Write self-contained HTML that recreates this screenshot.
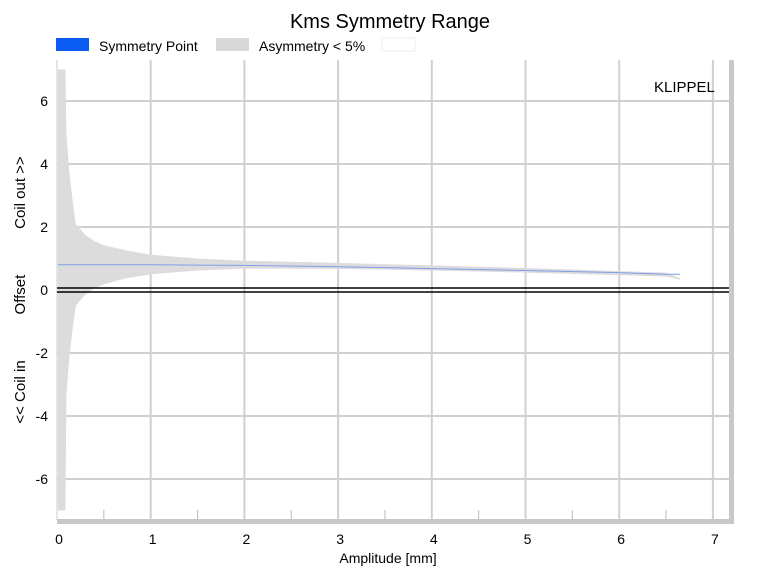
<!DOCTYPE html>
<html><head><meta charset="utf-8"><style>
body{margin:0;background:#fff;font-family:"Liberation Sans",sans-serif;}
svg text{font-family:"Liberation Sans",sans-serif;}
</style></head><body>
<svg width="765" height="572">
<text x="390" y="28" font-size="20" text-anchor="middle">Kms Symmetry Range</text>
<g>
<rect x="56" y="38" width="33" height="13" fill="#0a5cf5"/>
<text x="99" y="51" font-size="14">Symmetry Point</text>
<rect x="216" y="38" width="33" height="13" fill="#d9d9d9"/>
<text x="259" y="51" font-size="14">Asymmetry &lt; 5%</text>
<rect x="382" y="38" width="33" height="13" fill="#fff" stroke="#eee"/>
</g>
<rect x="729" y="60" width="5" height="464" fill="#c8c8c8"/>
<rect x="57" y="519" width="677" height="5" fill="#c8c8c8"/>
<line x1="57" y1="60" x2="57" y2="520" stroke="#ccc"/>
<g id="grid"></g>
<g id="series"></g>
<g id="axes"></g>
<text x="654" y="92" font-size="15">KLIPPEL</text>
<text x="388" y="563" font-size="14" text-anchor="middle">Amplitude [mm]</text>
<text transform="translate(25,290) rotate(-90)" font-size="15" text-anchor="middle">&lt;&lt; Coil in&#160;&#160;&#160;&#160;&#160;&#160;&#160;&#160;&#160;&#160;&#160;Offset&#160;&#160;&#160;&#160;&#160;&#160;&#160;&#160;&#160;&#160;&#160;Coil out &gt;&gt;</text>
</svg>
<script>
const xTicks=[0,1,2,3,4,5,6,7];
const yTicks=[-6,-4,-2,0,2,4,6];
const amplitude=[0.01,0.09,0.1,0.13,0.16,0.2,0.3,0.4,0.5,0.75,1,1.5,2,3,4,5,6,6.5,6.65];
const upper=[7.0,7.0,5.0,3.8,3.0,2.1,1.75,1.55,1.42,1.25,1.12,1.0,0.93,0.86,0.78,0.7,0.6,0.55,0.37];
const lower=[-7.0,-7.0,-3.4,-2.2,-1.4,-0.5,-0.15,0.05,0.18,0.38,0.5,0.62,0.68,0.67,0.62,0.55,0.47,0.43,0.33];
const symmetry=[0.8,0.8,0.8,0.8,0.8,0.8,0.8,0.8,0.8,0.8,0.8,0.79,0.78,0.74,0.68,0.62,0.55,0.5,0.5];
const X=v=>57+v*93.7, Y=v=>290-v*31.5;
const NS='http://www.w3.org/2000/svg';
const grid=document.getElementById('grid'),ser=document.getElementById('series'),ax=document.getElementById('axes');
function mk(p,t,a){const e=document.createElementNS(NS,t);for(const k in a)e.setAttribute(k,a[k]);p.appendChild(e);return e;}
xTicks.forEach(v=>{if(v>0){const l=mk(grid,'line',{x1:X(v),x2:X(v),y1:60,y2:519,stroke:'#d0d0d0','stroke-width':2});

}
const t=mk(ax,'text',{x:X(v)+2,y:544,'font-size':14,'text-anchor':'middle'});t.textContent=v;


if(v<7){const m=mk(ax,'line',{x1:X(v+0.5),x2:X(v+0.5),y1:510,y2:519,stroke:'#bbb'});

}});
yTicks.forEach(v=>{if(v!==0){const l=mk(grid,'line',{x1:57,x2:729,y1:Y(v),y2:Y(v),stroke:'#d0d0d0','stroke-width':2});

}
const t=mk(ax,'text',{x:48,y:Y(v)+5,'font-size':14,'text-anchor':'end'});t.textContent=v;

});
let d='M'+amplitude.map((a,i)=>X(a)+','+Y(upper[i])).join('L');
for(let i=amplitude.length-1;i>=0;i--)d+='L'+X(amplitude[i])+','+Y(lower[i]);
const band=mk(ser,'path',{d:d+'Z',fill:'#dcdcdc'});


const sl=mk(ser,'polyline',{points:amplitude.map((a,i)=>X(a)+','+Y(symmetry[i])).join(' '),fill:'none',stroke:'#7f9fe8','stroke-width':1});


[-2,2].forEach(o=>{const z=mk(ax,'line',{x1:57,x2:729,y1:Y(0)+o,y2:Y(0)+o,stroke:'#000','stroke-width':1.6});

});
</script>
</body></html>
